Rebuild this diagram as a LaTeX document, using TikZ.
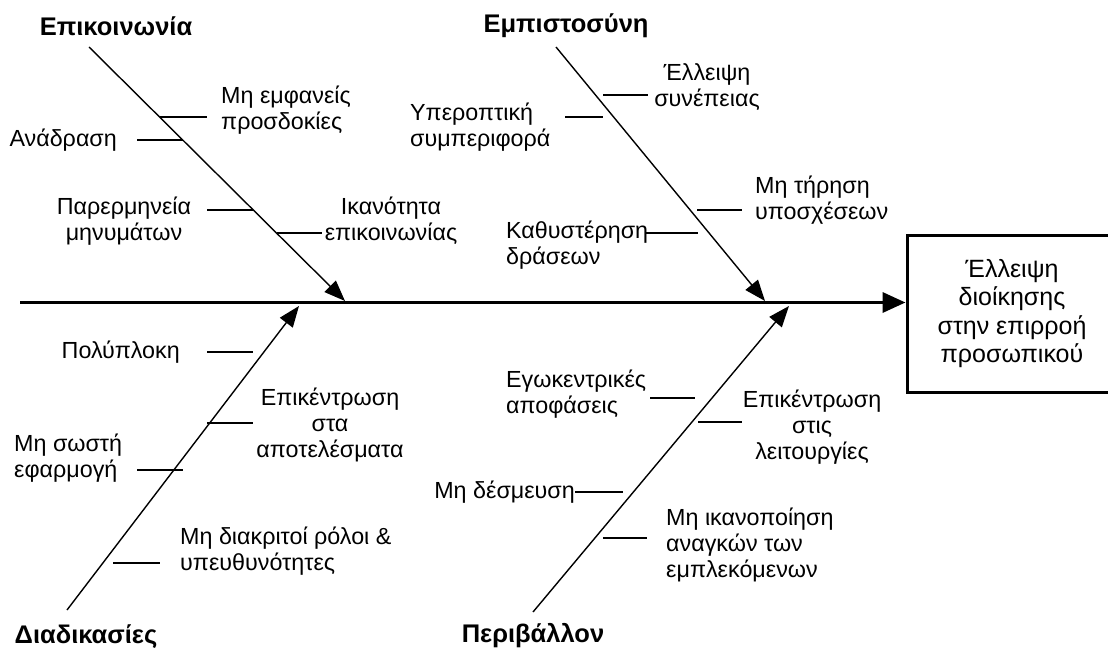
\documentclass[tikz,border=0pt]{standalone}
\usepackage{fontspec}
\setmainfont{Liberation Sans}
\usetikzlibrary{arrows.meta}
\begin{document}
\begin{tikzpicture}[x=1pt,y=-1pt,
  spine/.style={line width=3.5pt,-{Triangle[length=23pt,width=20pt]}},
  bone/.style={line width=1.4pt,-{Triangle[length=21pt,width=16pt]}},
  rib/.style={line width=1.4pt},
  cause/.style={font=\bfseries\fontsize{25.5}{29}\selectfont,inner sep=0pt},
  item/.style={font=\fontsize{23.3}{26}\selectfont,inner sep=0pt,align=left},
  effectbox/.style={draw,line width=3pt,minimum width=210pt,minimum height=157pt,align=center,font=\fontsize{25}{28.5}\selectfont}]
\fill[white] (0,0) rectangle (1108,650);
\useasboundingbox (0,0) rectangle (1108,650);

% effect box and spine
\node[effectbox] (eff) at (1012,313.5) {Έλλειψη\\διοίκησης\\στην επιρροή\\προσωπικού};
\coordinate (s0) at (20,302.5);
\draw[spine] (s0) -- (s0 -| eff.west);

% cause labels
\node[cause] (cA) at (116,26) {Επικοινωνία};
\node[cause] (cB) at (566,26) {Εμπιστοσύνη};
\node[cause] (cC) at (86,637) {Διαδικασίες};
\node[cause] (cD) at (533,636) {Περιβάλλον};

% bones
\coordinate (aT) at (89,47);  \coordinate (aH) at (345,301);
\coordinate (bT) at (556,47); \coordinate (bH) at (765,301);
\coordinate (cT) at (67,610); \coordinate (cH) at (299,306);
\coordinate (dT) at (533,612); \coordinate (dH) at (789,306);
\draw[bone] (aT) -- (aH);
\draw[bone] (bT) -- (bH);
\draw[bone] (cT) -- (cH);
\draw[bone] (dT) -- (dH);

% sub-cause texts
\node[item,anchor=west] (t1) at (221,110) {Μη εμφανείς\\προσδοκίες};
\node[item,anchor=east] (t2) at (117,140) {Ανάδραση};
\node[item,align=center] (t3) at (124,221) {Παρερμηνεία\\μηνυμάτων};
\node[item,align=center] (t4) at (391,221) {Ικανότητα\\επικοινωνίας};
\node[item,align=center] (t5) at (707,87) {Έλλειψη\\συνέπειας};
\node[item,anchor=west] (t6) at (410,127) {Υπεροπτική\\συμπεριφορά};
\node[item,anchor=west] (t7) at (755,200) {Μη τήρηση\\υποσχέσεων};
\node[item,anchor=west] (t8) at (506,245) {Καθυστέρηση\\δράσεων};
\node[item,anchor=east] (t9) at (180,352) {Πολύπλοκη};
\node[item,align=center] (t10) at (330,425) {Επικέντρωση\\στα\\αποτελέσματα};
\node[item,anchor=west] (t11) at (14,458) {Μη σωστή\\εφαρμογή};
\node[item,anchor=west] (t12) at (180,551) {Μη διακριτοί ρόλοι \&\\υπευθυνότητες};
\node[item,anchor=west] (t13) at (506,394) {Εγωκεντρικές\\αποφάσεις};
\node[item,align=center] (t14) at (812,427) {Επικέντρωση\\στις\\λειτουργίες};
\node[item,anchor=east] (t15) at (575,492) {Μη δέσμευση};
\node[item,anchor=west] (t16) at (666,545) {Μη ικανοποίηση\\αναγκών των\\εμπλεκόμενων};

% ribs
\draw[rib] (160,117) coordinate (r1a) -- (207,117) coordinate (r1b);
\draw[rib] (137,140) coordinate (r2a) -- (183,140) coordinate (r2b);
\draw[rib] (207,210) coordinate (r3a) -- (253,210) coordinate (r3b);
\draw[rib] (277,233) coordinate (r4a) -- (322,233) coordinate (r4b);
\draw[rib] (603,95) coordinate (r5a) -- (648,95) coordinate (r5b);
\draw[rib] (565,117) coordinate (r6a) -- (603,117) coordinate (r6b);
\draw[rib] (697,210) coordinate (r7a) -- (742,210) coordinate (r7b);
\draw[rib] (645,233) coordinate (r8a) -- (698,233) coordinate (r8b);
\draw[rib] (207,352) coordinate (r9a) -- (253,352) coordinate (r9b);
\draw[rib] (207,423) coordinate (r10a) -- (253,423) coordinate (r10b);
\draw[rib] (137,470) coordinate (r11a) -- (183,470) coordinate (r11b);
\draw[rib] (113,563) coordinate (r12a) -- (160,563) coordinate (r12b);
\draw[rib] (650,398) coordinate (r13a) -- (695,398) coordinate (r13b);
\draw[rib] (698,422) coordinate (r14a) -- (742,422) coordinate (r14b);
\draw[rib] (t15.east) -- (623,492) coordinate (r15b);
\draw[rib] (603,538) coordinate (r16a) -- (647,538) coordinate (r16b);
\end{tikzpicture}
\end{document}
